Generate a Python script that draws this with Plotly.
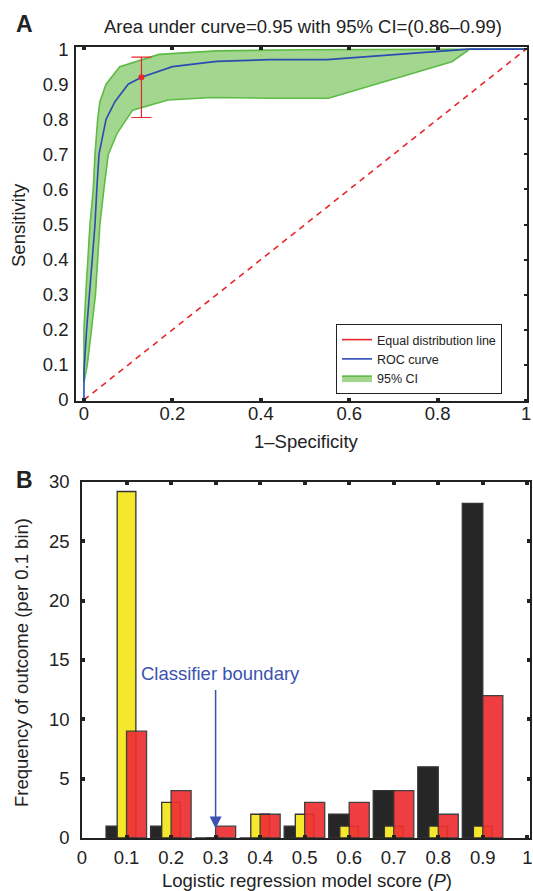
import plotly.graph_objects as go

# ---------------- Panel A data ----------------
roc_fpr = [0.0, 0.0, 0.006, 0.012, 0.019, 0.025, 0.029, 0.034, 0.05, 0.07, 0.10, 0.13, 0.2, 0.3, 0.42, 0.55, 0.87, 1.0]
roc_tpr = [0.0, 0.08, 0.2, 0.3, 0.4, 0.5, 0.6, 0.7, 0.8, 0.85, 0.9, 0.92, 0.95, 0.965, 0.97, 0.97, 1.0, 1.0]

ci_upper_fpr = [0.0, 0.0, 0.004, 0.008, 0.0136, 0.021, 0.025, 0.031, 0.036, 0.05, 0.081, 0.17, 0.3, 0.5, 0.873, 1.0]
ci_upper_tpr = [0.05, 0.2, 0.3, 0.4, 0.5, 0.6, 0.7, 0.8, 0.85, 0.9, 0.95, 0.985, 0.995, 0.998, 1.0, 1.0]

ci_lower_fpr = [0.0, 0.0075, 0.017, 0.026, 0.031, 0.036, 0.045, 0.055, 0.075, 0.11, 0.19, 0.29, 0.42, 0.553, 0.832, 0.873, 1.0]
ci_lower_tpr = [0.05, 0.1, 0.2, 0.3, 0.4, 0.5, 0.6, 0.7, 0.76, 0.826, 0.855, 0.862, 0.86, 0.86, 0.964, 1.0, 1.0]

diag_x = [0.0, 1.0]
diag_y = [0.0, 1.0]

op_fpr = [0.13]
op_tpr = [0.92]
op_ci_low = [0.805]
op_ci_high = [0.977]

# ---------------- Panel B data ----------------
bins = [0.1, 0.2, 0.3, 0.4, 0.5, 0.6, 0.7, 0.8, 0.9]
black_counts = [1, 1, 0, 0, 1, 2, 4, 6, 28.2]
yellow_counts = [29.2, 3, 0, 2, 2, 1, 1, 1, 1]
red_counts = [9, 4, 1, 2, 3, 3, 4, 2, 12]

xticks_a = [0, 0.2, 0.4, 0.6, 0.8, 1]
xlabels_a = ["0", "0.2", "0.4", "0.6", "0.8", "1"]
yticks_a = [0, 0.1, 0.2, 0.3, 0.4, 0.5, 0.6, 0.7, 0.8, 0.9, 1]
ylabels_a = ["0", "0.1", "0.2", "0.3", "0.4", "0.5", "0.6", "0.7", "0.8", "0.9", "1"]
xticks_b = [0, 0.1, 0.2, 0.3, 0.4, 0.5, 0.6, 0.7, 0.8, 0.9, 1]
xlabels_b = ["0", "0.1", "0.2", "0.3", "0.4", "0.5", "0.6", "0.7", "0.8", "0.9", "1"]
yticks_b = [0, 5, 10, 15, 20, 25, 30]

FONT = "Liberation Sans, Arial, sans-serif"
INK = "#222222"
W, H = 533, 891
FS = 18.5

def px_x(p):
    return p / W

def px_y(p):
    return 1 - p / H

fig = go.Figure()

# CI band
fig.add_trace(go.Scatter(
    x=ci_upper_fpr + ci_lower_fpr[::-1],
    y=ci_upper_tpr + ci_lower_tpr[::-1],
    fill="toself", mode="lines",
    line=dict(color="#5DBB46", width=1.6),
    fillcolor="#A3D68E",
    name="95% CI", legendrank=3,
    xaxis="x", yaxis="y",
))
# diagonal (drawn dashed, legend shows solid entry)
fig.add_trace(go.Scatter(
    x=diag_x, y=diag_y, mode="lines",
    line=dict(color="#E8262B", width=1.6, dash="6px,5px"),
    showlegend=False, xaxis="x", yaxis="y",
))
fig.add_trace(go.Scatter(
    x=[None], y=[None], mode="lines",
    line=dict(color="#E8262B", width=1.6),
    name="Equal distribution line", legendrank=1,
    xaxis="x", yaxis="y",
))
# ROC
fig.add_trace(go.Scatter(
    x=roc_fpr, y=roc_tpr, mode="lines",
    line=dict(color="#2B4CB3", width=1.6),
    name="ROC curve", legendrank=2,
    xaxis="x", yaxis="y",
))
# operating point with CI
fig.add_trace(go.Scatter(
    x=op_fpr, y=op_tpr, mode="markers",
    marker=dict(color="#E8262B", size=6),
    error_y=dict(type="data", symmetric=False,
                 array=[op_ci_high[0] - op_tpr[0]],
                 arrayminus=[op_tpr[0] - op_ci_low[0]],
                 color="#E8262B", thickness=1.2, width=10),
    showlegend=False, xaxis="x", yaxis="y",
))
# dummy trace for right-side ticks axis
fig.add_trace(go.Scatter(x=[None], y=[None], xaxis="x", yaxis="y3", showlegend=False, hoverinfo="skip"))

# Panel B bars
fig.add_trace(go.Bar(
    x=bins, y=black_counts, offset=-0.046, width=0.046,
    marker=dict(color="#262626", line=dict(color="#333333", width=1.3)),
    showlegend=False, xaxis="x2", yaxis="y2",
))
fig.add_trace(go.Bar(
    x=bins, y=yellow_counts, offset=-0.021, width=0.042,
    marker=dict(color="#F4E72C", line=dict(color="#333333", width=1.3)),
    showlegend=False, xaxis="x2", yaxis="y2",
))
fig.add_trace(go.Bar(
    x=bins, y=red_counts, offset=0.0, width=0.045,
    marker=dict(color="#EE2E31", line=dict(color="#333333", width=1.3)),
    opacity=0.92,
    showlegend=False, xaxis="x2", yaxis="y2",
))

tickfont = dict(family=FONT, size=FS, color=INK)

fig.update_layout(
    width=W, height=H,
    margin=dict(l=0, r=0, t=0, b=0),
    paper_bgcolor="white", plot_bgcolor="white",
    barmode="overlay",
    font=dict(family=FONT, color=INK),
    showlegend=True,
    legend=dict(
        x=px_x(336), y=px_y(394), xanchor="left", yanchor="bottom",
        bgcolor="white", bordercolor=INK, borderwidth=1,
        font=dict(family=FONT, size=12.5, color=INK),
        tracegroupgap=0, itemwidth=30,
    ),
    xaxis=dict(
        domain=[px_x(76), px_x(527)], range=[-0.018, 1.002],
        tickvals=xticks_a, ticktext=xlabels_a,
        ticks="inside", ticklen=3, tickwidth=4, tickcolor=INK,
        showline=True, linecolor=INK, linewidth=1.5, mirror="ticks",
        showgrid=False, zeroline=False, tickfont=tickfont,
        ticklabelstandoff=-5,
        anchor="y", automargin=False,
    ),
    yaxis=dict(
        domain=[px_y(401), px_y(47)], range=[-0.003, 1.006],
        tickvals=yticks_a, ticktext=ylabels_a,
        ticks="", showline=True, linecolor=INK, linewidth=1.5, mirror=True,
        showgrid=False, zeroline=False, tickfont=tickfont,
        ticklabelstandoff=2,
        anchor="x", automargin=False,
    ),
    yaxis3=dict(
        overlaying="y", side="right", anchor="x",
        range=[-0.003, 1.006], tickvals=yticks_a,
        ticks="inside", ticklen=3, tickwidth=1.5, tickcolor=INK,
        showticklabels=False, showline=False, showgrid=False, zeroline=False,
        automargin=False,
    ),
    xaxis2=dict(
        domain=[px_x(82), px_x(530)], range=[0, 1.006],
        tickvals=xticks_b, ticktext=xlabels_b,
        ticks="inside", ticklen=3, tickwidth=4, tickcolor=INK,
        showline=True, linecolor=INK, linewidth=1.5, mirror="ticks",
        showgrid=False, zeroline=False, tickfont=tickfont,
        ticklabelstandoff=2,
        anchor="y2", automargin=False,
    ),
    yaxis2=dict(
        domain=[px_y(838), px_y(482)], range=[0, 30],
        tickvals=yticks_b,
        ticks="inside", ticklen=3, tickwidth=4, tickcolor=INK,
        showline=True, linecolor=INK, linewidth=1.5, mirror="ticks",
        showgrid=False, zeroline=False, tickfont=tickfont,
        ticklabelstandoff=7,
        anchor="x2", automargin=False,
    ),
)

annots = [
    dict(text="<b>A</b>", x=px_x(24), y=px_y(24), font=dict(size=23, family=FONT, color=INK)),
    dict(text="<b>B</b>", x=px_x(24), y=px_y(480), font=dict(size=23, family=FONT, color=INK)),
    dict(text="Area under curve=0.95 with 95% CI=(0.86–0.99)", x=px_x(303), y=px_y(27),
         font=dict(size=FS, family=FONT, color=INK)),
    dict(text="Sensitivity", x=px_x(18), y=px_y(225), textangle=-90,
         font=dict(size=FS, family=FONT, color=INK)),
    dict(text="1–Specificity", x=px_x(306), y=px_y(442),
         font=dict(size=FS, family=FONT, color=INK)),
    dict(text="Frequency of outcome (per 0.1 bin)", x=px_x(21), y=px_y(663), textangle=-90,
         font=dict(size=FS, family=FONT, color=INK)),
    dict(text="Logistic regression model score (<i>P</i>)", x=px_x(307), y=px_y(880),
         font=dict(size=FS, family=FONT, color=INK)),
]
for a in annots:
    fig.add_annotation(xref="paper", yref="paper", showarrow=False,
                       xanchor="center", yanchor="middle", **a)

# classifier boundary text + arrow
fig.add_annotation(xref="x2", yref="y2", x=0.31, y=13.9, text="Classifier boundary",
                   showarrow=False, font=dict(size=FS, family=FONT, color="#3B52B0"),
                   xanchor="center", yanchor="middle")
fig.add_annotation(xref="x2", yref="y2", x=0.3, y=0.8, axref="x2", ayref="y2",
                   ax=0.3, ay=12.6, text="", showarrow=True,
                   arrowhead=2, arrowsize=1.6, arrowwidth=1.5, arrowcolor="#3B52B0")

fig.write_html(
    "out.html",
    config={"displayModeBar": False},
    post_script="document.body.style.margin='0';document.body.style.overflow='hidden';",
)
